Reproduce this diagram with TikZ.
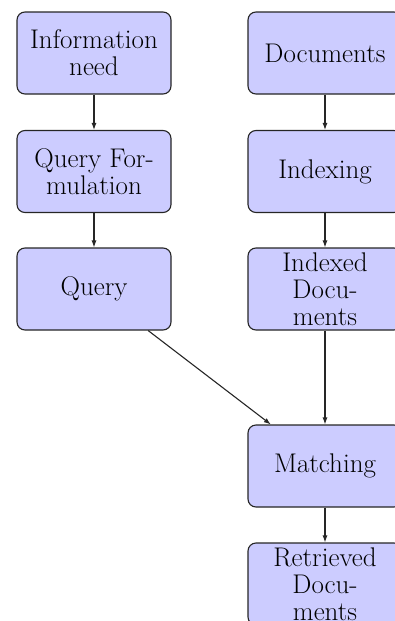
\documentclass[tikz,border=0pt]{standalone}
\usetikzlibrary{arrows.meta}
\begin{document}
\begin{tikzpicture}[x=1pt,y=-1pt,
  box/.style={draw=black!85, fill=blue!20, line width=1.1pt, rounded corners=8pt,
    minimum width=154pt, minimum height=82pt, align=center, inner sep=2pt,
    font=\fontsize{27}{27}\selectfont},
  flow/.style={draw=black!85, line width=1.1pt, -{Latex[length=7pt,width=5pt]}}]
\useasboundingbox (0,0) rectangle (394,621);
\node[box] (info) at (94,53) {Information\\need};
\node[box] (qf) at (94,171.5) {Query For-\\mulation};
\node[box] (query) at (94,289) {Query};
\node[box] (docs) at (325,53) {Documents};
\node[box] (idx) at (325,171.5) {Indexing};
\node[box] (idocs) at (325,289) {Indexed\\Docu-\\ments};
\node[box] (match) at (325,466) {Matching};
\node[box] (ret) at (325,584) {Retrieved\\Docu-\\ments};
\draw[flow] (info) -- (qf);
\draw[flow] (qf) -- (query);
\draw[flow] (docs) -- (idx);
\draw[flow] (idx) -- (idocs);
\draw[flow] (idocs) -- (match);
\draw[flow] (query) -- (match);
\draw[flow] (match) -- (ret);
\end{tikzpicture}
\end{document}
